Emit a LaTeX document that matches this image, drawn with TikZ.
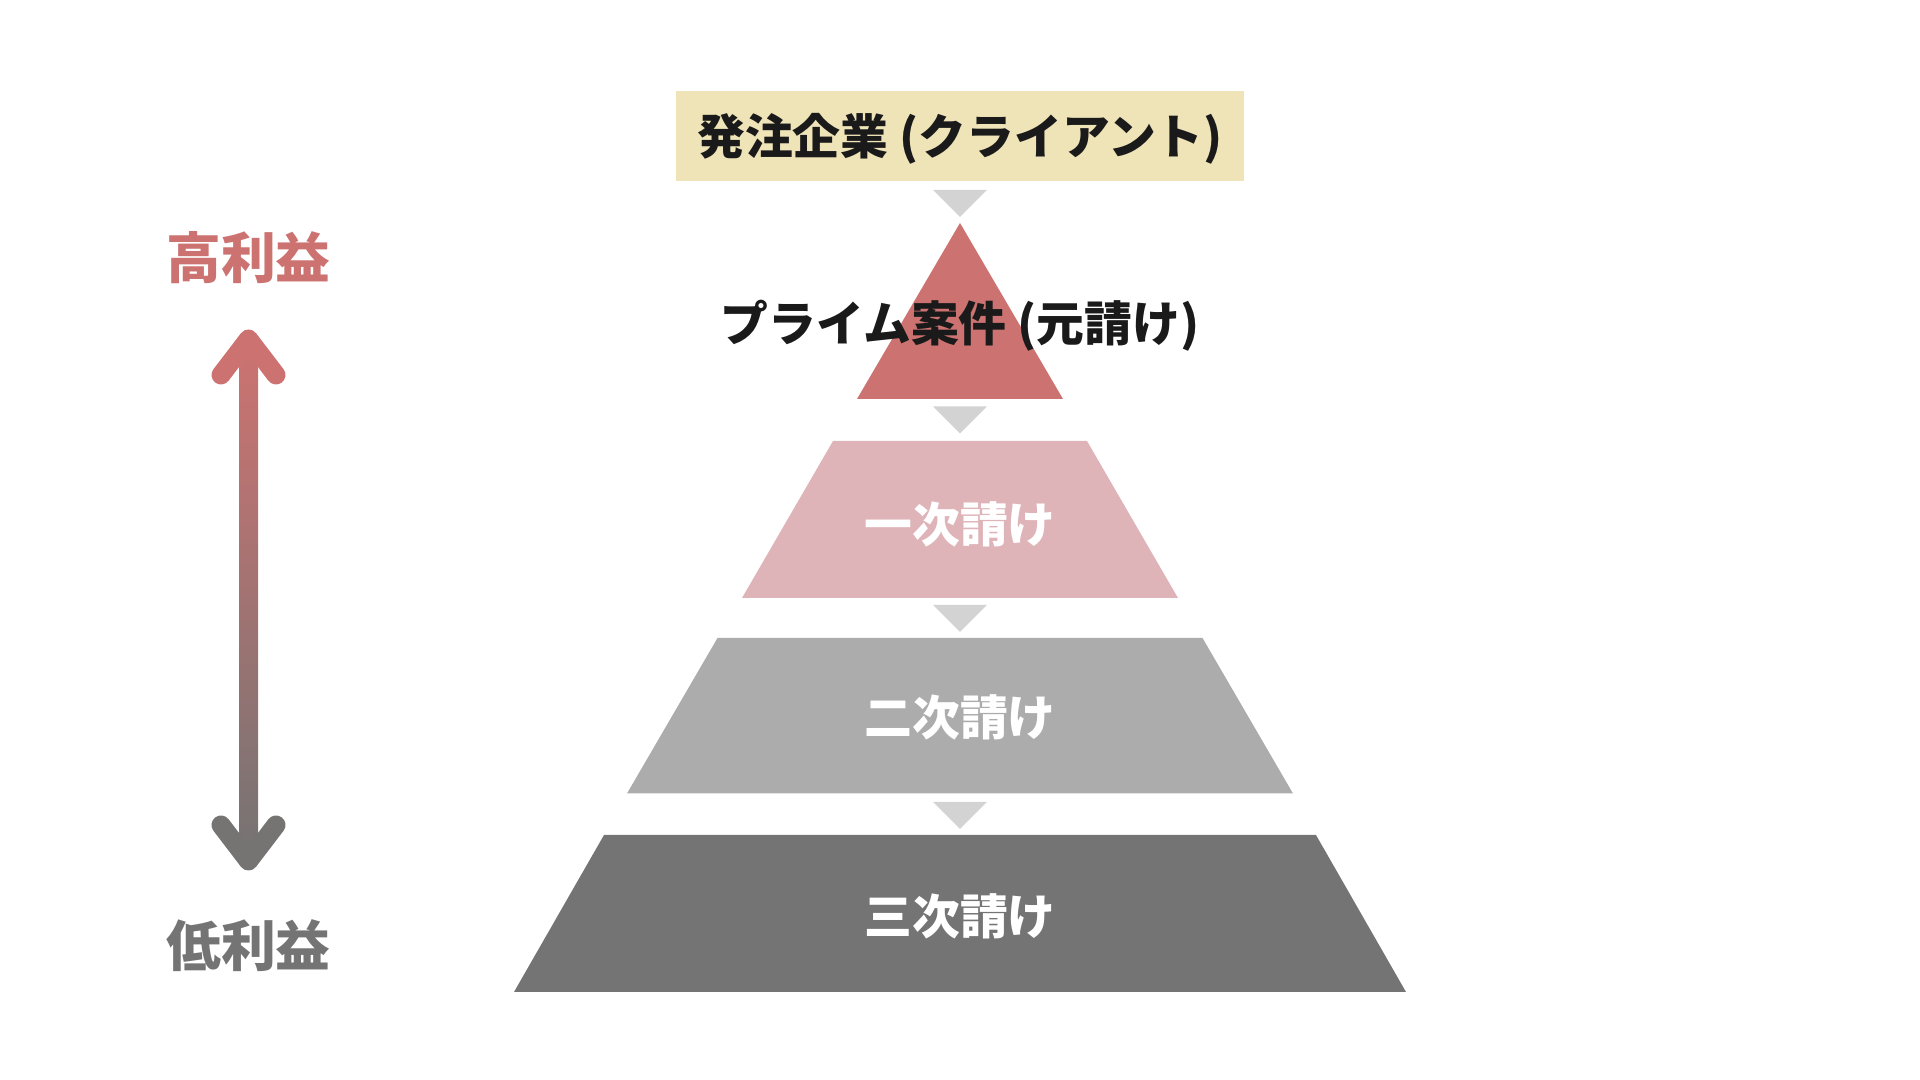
\documentclass[tikz,border=0pt]{standalone}
\usepackage{fontspec}
\setmainfont{Noto Sans CJK JP}
\definecolor{clientfill}{HTML}{EFE3B8}
\definecolor{primered}{HTML}{CC7371}
\definecolor{firstpink}{HTML}{DFB4B9}
\definecolor{secondgray}{HTML}{ACACAC}
\definecolor{thirdgray}{HTML}{747474}
\definecolor{flowgray}{HTML}{D3D3D3}
\definecolor{inkblack}{HTML}{1A1A1A}
\definecolor{arrowgray}{HTML}{767373}
\begin{document}
\begin{tikzpicture}[x=0.01cm,y=-0.01cm,
    tiertext/.style={font=\bfseries\fontsize{13.6}{16}\selectfont,inner sep=0pt},
    sidetext/.style={font=\bfseries\fontsize{15.6}{18}\selectfont,inner sep=0pt},
    chevron/.style={line width=0.19cm,line cap=round,line join=round}]
  \useasboundingbox (0,0) rectangle (1920,1080);
  % client box
  \fill[clientfill] (676,91) rectangle (1244,181);
  \node[tiertext,text=inkblack] (client) at (960,139) {発注企業 (クライアント)};
  % pyramid
  \fill[primered] (960,223) -- (1063,399) -- (857,399) -- cycle;
  \fill[firstpink] (833,441) -- (1087,441) -- (1178,598) -- (742,598) -- cycle;
  \fill[secondgray] (717.5,638) -- (1202.5,638) -- (1293,793.5) -- (627,793.5) -- cycle;
  \fill[thirdgray] (604,835) -- (1316,835) -- (1406,992) -- (514,992) -- cycle;
  \foreach \y in {190,406.5,605,802}
    \fill[flowgray] (933,\y) -- (987,\y) -- (960,\y+27) -- cycle;
  \node[tiertext,text=inkblack] (prime) at (960,326) {プライム案件 (元請け)};
  \node[tiertext,text=white] (first) at (960,524) {一次請け};
  \node[tiertext,text=white] (second) at (960,717) {二次請け};
  \node[tiertext,text=white] (third) at (960,916) {三次請け};
  % profit scale
  \node[sidetext,text=primered] (high) at (248.5,258) {高利益};
  \node[sidetext,text=thirdgray] (low) at (248.5,946) {低利益};
  \shade[top color=primered,bottom color=arrowgray] (239,345) rectangle (258,855);
  \draw[chevron,primered] (221,375) -- (248.5,339) -- (276,375);
  \draw[chevron,arrowgray] (221,825) -- (248.5,861) -- (276,825);
\end{tikzpicture}
\end{document}
